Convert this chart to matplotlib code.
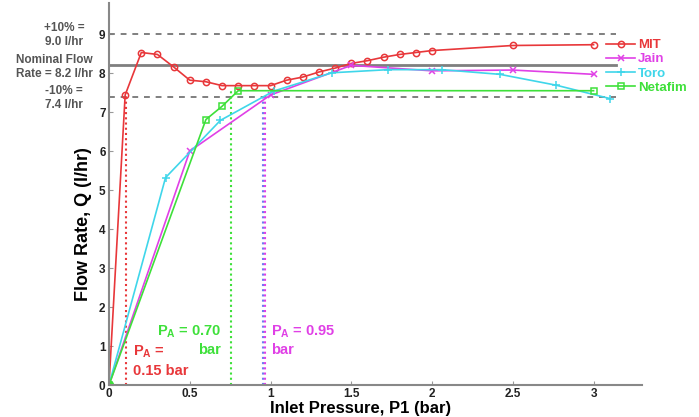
import matplotlib
matplotlib.use("Agg")
import matplotlib.pyplot as plt

plt.rcParams['font.family'] = ['Liberation Sans', 'DejaVu Sans']
plt.rcParams['font.weight'] = 'bold'
plt.rcParams['mathtext.fontset'] = 'custom'
plt.rcParams['mathtext.rm'] = 'Liberation Sans:bold'
plt.rcParams['mathtext.bf'] = 'Liberation Sans:bold'
plt.rcParams['mathtext.it'] = 'Liberation Sans:bold'

# ---- data ----
mit_x = [0, 0.1, 0.2, 0.3, 0.4, 0.5, 0.6, 0.7, 0.8, 0.9, 1.0, 1.1, 1.2, 1.3, 1.4,
         1.5, 1.6, 1.7, 1.8, 1.9, 2.0, 2.5, 3.0]
mit_y = [0, 7.44, 8.53, 8.48, 8.16, 7.82, 7.78, 7.68, 7.68, 7.68, 7.68, 7.82, 7.90,
         8.03, 8.13, 8.25, 8.32, 8.41, 8.48, 8.53, 8.58, 8.71, 8.73]
jain_x = [0, 0.5, 1.0, 1.5, 2.0, 2.5, 3.0]
jain_y = [0, 6.0, 7.44, 8.20, 8.06, 8.08, 7.97]
toro_x = [0, 0.35, 0.69, 1.02, 1.38, 1.73, 2.06, 2.42, 2.77, 3.10]
toro_y = [0, 5.32, 6.79, 7.54, 8.01, 8.09, 8.09, 7.97, 7.69, 7.35]
neta_x = [0, 0.6, 0.7, 0.8, 3.0]
neta_y = [0, 6.81, 7.15, 7.55, 7.55]

nominal = 8.2
upper = 9.0
lower = 7.4
ref_xmax = 3.14

pa_mit, pa_mit_q = 0.103, 7.44
pa_neta, pa_neta_q = 0.754, 7.55
pa_jain, pa_jain_q = 0.965, 7.40
pa_toro, pa_toro_q = 0.952, 7.40

xticks = [0, 0.5, 1, 1.5, 2, 2.5, 3]
xticklabels = ['0', '0.5', '1', '1.5', '2', '2.5', '3']
yticks = list(range(0, 10))

RED = '#e8373a'
MAG = '#e040e6'
CYA = '#3fd6ea'
GRN = '#3ee03a'
GRAY = '#7f7f7f'

fig = plt.figure(figsize=(6.99, 4.17), dpi=100)
ax = fig.add_axes([109/699, 1-385/417, (642-109)/699, (385-3)/417])

# reference lines
ax.plot([0, ref_xmax], [upper, upper], color=GRAY, lw=1.4, ls=(0, (3, 3)))
ax.plot([0, ref_xmax], [lower, lower], color=GRAY, lw=1.4, ls=(0, (3, 3)))
ax.plot([0, ref_xmax], [nominal, nominal], color=GRAY, lw=2.0)

# vertical dotted markers
ax.plot([pa_mit, pa_mit], [0, pa_mit_q], color=RED, lw=1.5, ls=(0, (1, 1.5)))
ax.plot([pa_neta, pa_neta], [0, pa_neta_q], color=GRN, lw=1.5, ls=(0, (1, 1.5)))
ax.plot([pa_toro, pa_toro], [0, pa_toro_q], color='#6f7cf0', lw=1.5, ls=(0, (1, 1.5)))
ax.plot([pa_jain, pa_jain], [0, pa_jain_q], color=MAG, lw=1.5, ls=(0, (1, 1.5)))

ms = 4.5
ax.plot(mit_x, mit_y, color=RED, lw=1.2, marker='o', ms=ms, mfc='none', mew=1.1, label='MIT')
ax.plot(jain_x, jain_y, color=MAG, lw=1.2, marker='x', ms=ms, mew=1.1, label='Jain')
ax.plot(toro_x, toro_y, color=CYA, lw=1.2, marker='+', ms=ms+1, mew=1.1, label='Toro')
ax.plot(neta_x, neta_y, color=GRN, lw=1.2, marker='s', ms=ms-0.5, mfc='none', mew=1.1, label='Netafim')
ax.plot([0], [0], color=GRN, marker='o', ms=6, ls='none')

ax.set_xlim(0, 3.3)
ax.set_ylim(0, 9.8)
ax.set_xticks(xticks)
ax.set_xticklabels(xticklabels)
ax.set_yticks(yticks)
for s in ['top', 'right']:
    ax.spines[s].set_visible(False)
for s in ['left', 'bottom']:
    ax.spines[s].set_color('#888888')
    ax.spines[s].set_linewidth(1.5)
ax.tick_params(direction='in', length=3, color='#999999', labelsize=8.5,
               labelcolor='#222222', pad=2.5)
for lab in ax.get_xticklabels() + ax.get_yticklabels():
    lab.set_fontweight('bold')

fig.text(361/699, 1-409/417, 'Inlet Pressure, P1 (bar)', ha='center', va='center',
         fontsize=12, fontweight='bold')
fig.text(83/699, 1-224/417, 'Flow Rate, Q (l/hr)', ha='center', va='center',
         rotation=90, fontsize=13, fontweight='bold')

leg = ax.legend(loc='upper left', bbox_to_anchor=(606/699, 1-39/417),
                bbox_transform=fig.transFigure, frameon=False, fontsize=9.5,
                handlelength=2.2, handletextpad=0.2, labelspacing=0.15,
                borderpad=0, borderaxespad=0, labelcolor='linecolor')
for t in leg.get_texts():
    t.set_fontweight('bold')

# left annotations
tc = '#555555'
fig.text(64/699, 1-35/417, '+10% =\n9.0 l/hr', ha='center', va='center',
         fontsize=8.5, color=tc, fontweight='bold', linespacing=1.15)
fig.text(54/699, 1-67/417, 'Nominal Flow\nRate = 8.2 l/hr', ha='center', va='center',
         fontsize=8.5, color=tc, fontweight='bold', linespacing=1.15)
fig.text(64/699, 1-98/417, '-10% =\n7.4 l/hr', ha='center', va='center',
         fontsize=8.5, color=tc, fontweight='bold', linespacing=1.15)

# P_A annotations (one text per line)
pa = 'P$_{\\mathrm{A}}$'
fig.text(133/699, 1-352/417, pa + ' =', ha='left', va='center',
         fontsize=10.5, color=RED, fontweight='bold')
fig.text(133/699, 1-371/417, '0.15 bar', ha='left', va='center',
         fontsize=10.5, color=RED, fontweight='bold')
fig.text(221/699, 1-332/417, pa + ' = 0.70', ha='right', va='center',
         fontsize=10.5, color=GRN, fontweight='bold')
fig.text(221/699, 1-350/417, 'bar', ha='right', va='center',
         fontsize=10.5, color=GRN, fontweight='bold')
fig.text(271/699, 1-332/417, pa + ' = 0.95', ha='left', va='center',
         fontsize=10.5, color=MAG, fontweight='bold')
fig.text(271/699, 1-350/417, 'bar', ha='left', va='center',
         fontsize=10.5, color=MAG, fontweight='bold')

fig.savefig('out.png', dpi=100)
